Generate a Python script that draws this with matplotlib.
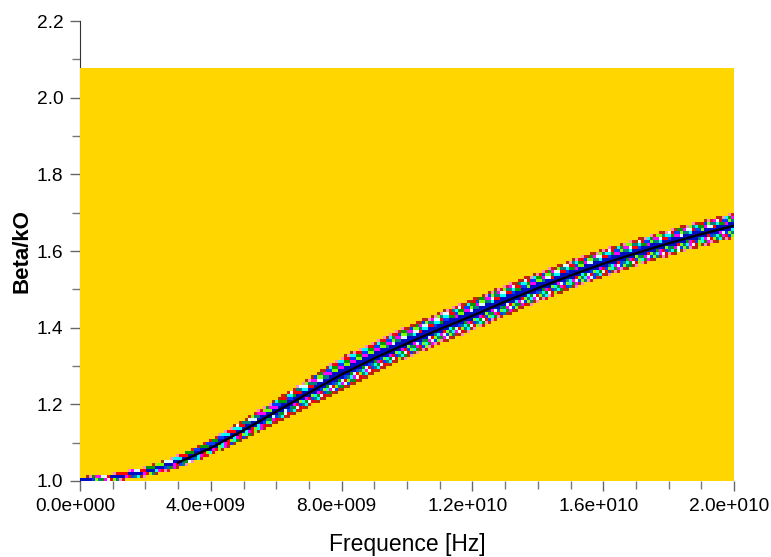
import matplotlib
matplotlib.use("Agg")
import matplotlib.pyplot as plt
import matplotlib.transforms as mtransforms
import numpy as np
from matplotlib.ticker import MultipleLocator, FuncFormatter

# dispersion curve (frequency in Hz, Beta/kO)
freq = np.arange(0, 21) * 1e9
beta = [1.000, 1.006, 1.021, 1.048, 1.086, 1.132, 1.181, 1.230, 1.278, 1.320,
        1.359, 1.396, 1.431, 1.468, 1.503, 1.536, 1.567, 1.594, 1.620, 1.644,
        1.666]

x_ticks = np.arange(0, 2.01e10, 4e9)
y_ticks = np.arange(1.0, 2.21, 0.2)
field_top = 2.075   # top of the yellow field

YELLOW = np.array([1.0, 0.843, 0.0])
PALETTE = np.array([
    [0.0, 1.0, 1.0], [0.0, 0.6, 0.0], [1.0, 0.0, 1.0], [0.85, 1.0, 1.0],
    [1.0, 0.0, 0.0], [0.0, 0.25, 1.0], [0.5, 1.0, 0.0], [0.0, 0.5, 0.5],
])
FRINGE = np.array([[0.65, 0.2, 0.0], [1.0, 0.55, 0.75], [0.85, 0.1, 0.1]])


def fmt_exp(v, pos):
    m, e = f"{v:.1e}".split("e")
    return f"{m}e{int(e):+04d}"


def band_image():
    """yellow field with the speckled band around the curve"""
    nx, ny = 218, 137
    xc = np.linspace(0, freq[-1], nx)
    yc = np.linspace(1.0, field_top, ny)
    curve = np.interp(xc, freq, beta)
    px = 1.2 / 460.0  # data units per pixel on y
    half = np.interp(xc, [0, 2e9, 4e9, 8e9, 1.2e10, 1.6e10, 2e10],
                     [2.5, 5, 8, 16, 16, 14, 12.5]) * px
    img = np.tile(YELLOW, (ny, nx, 1))
    for j in range(ny):
        for i in range(nx):
            t = abs(yc[j] - curve[i]) / half[i]
            if t > 1.0:
                continue
            if t < 0.28:
                c = (0.0, 0.05, 0.75)
            elif t < 0.82:
                c = PALETTE[(i + 2 * j + int(t * 5)) % len(PALETTE)]
            else:
                c = FRINGE[(i + j) % len(FRINGE)]
            img[j, i] = c
    return img


fig = plt.figure(figsize=(7.71, 5.57), dpi=100)
ax = fig.add_axes([80 / 771, 1 - 481 / 557, 654 / 771, 460 / 557])

ax.imshow(band_image(), origin="lower", aspect="auto", interpolation="nearest",
          extent=[0, freq[-1], 1.0, field_top], zorder=3)
ax.plot(freq[3:], beta[3:], color="black", lw=1.6, zorder=4)

ax.set_xlim(0, 2e10)
ax.set_ylim(1.0, 2.2)
ax.set_xticks(x_ticks)
ax.set_yticks(y_ticks)
ax.xaxis.set_minor_locator(MultipleLocator(1e9))
ax.yaxis.set_minor_locator(MultipleLocator(0.1))
ax.xaxis.set_major_formatter(FuncFormatter(fmt_exp))
ax.yaxis.set_major_formatter(FuncFormatter(lambda v, p: f"{v:.1f}"))

for s in ["top", "right", "bottom"]:
    ax.spines[s].set_visible(False)
ax.spines["left"].set_color("#333333")

ax.tick_params(which="major", length=7, width=1, color="#666666", pad=5,
               labelsize=13.8)
ax.tick_params(which="minor", length=6, width=1, color="#777777")
shift = mtransforms.ScaledTranslation(-5 / 100, 0, fig.dpi_scale_trans)
for lab in ax.get_xticklabels():
    lab.set_fontfamily("Liberation Sans")
    lab.set_transform(lab.get_transform() + shift)
for lab in ax.get_yticklabels():
    lab.set_fontfamily("Liberation Sans")

ax.set_xlabel("Frequence [Hz]", fontsize=16.5, family="Liberation Sans",
              labelpad=13)
ax.set_ylabel("Beta/kO", fontsize=16, family="Liberation Sans",
              fontweight="bold", labelpad=3)

fig.savefig("out.png", dpi=100, facecolor="white")
